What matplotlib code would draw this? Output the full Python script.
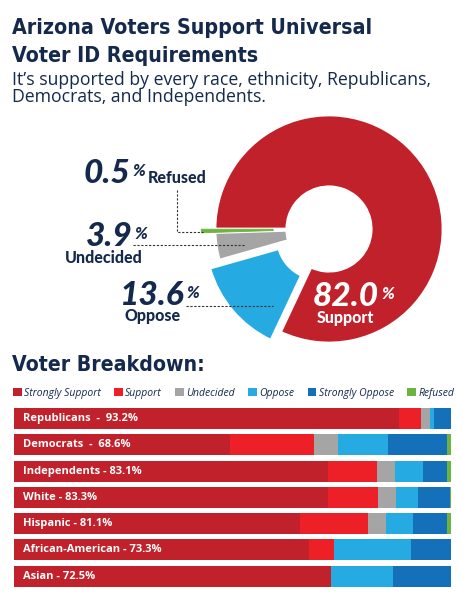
import matplotlib.pyplot as plt
from matplotlib.lines import Line2D

# Datos
total_labels = ["Support", "Oppose", "Undecided", "Refused"]
total_values = [82.0, 13.6, 3.9, 0.5]

grupos = ["Republicans  -  93.2%", "Democrats  -  68.6%", "Independents - 83.1%",
          "White - 83.3%", "Hispanic - 81.1%", "African-American - 73.3%", "Asian - 72.5%"]
strongly_support = [88.0, 49.4, 71.9, 71.9, 65.4, 67.5, 72.5]
support = [5.2, 19.2, 11.2, 11.4, 15.7, 5.8, 0.0]
undecided = [2.0, 5.6, 4.1, 4.1, 4.1, 0.0, 0.0]
oppose = [0.8, 11.4, 6.4, 5.0, 6.2, 17.5, 14.2]
strongly_oppose = [4.0, 13.5, 5.5, 7.3, 7.6, 9.2, 13.3]
refused = [0.0, 0.9, 0.9, 0.3, 1.1, 0.0, 0.0]

navy = "#14294b"
cores = {"Strongly Support": "#c1212a", "Support": "#ed2027", "Undecided": "#a5a5a5",
         "Oppose": "#25aae1", "Strongly Oppose": "#1470b8", "Refused": "#6db33f"}

W, H = 463, 600


def fx(x):
    return x / W


def fy(y):
    return 1 - y / H


fig = plt.figure(figsize=(W / 100, H / 100), dpi=100)
fig.patch.set_facecolor("white")

titulo = dict(family="DejaVu Sans", stretch="condensed", weight="bold", color=navy, va="baseline")
fig.text(fx(12), fy(34), "Arizona Voters Support Universal", size=15.3, **titulo)
fig.text(fx(12), fy(62), "Voter ID Requirements", size=15.3, **titulo)
fig.text(fx(12), fy(85), "It\u2019s supported by every race, ethnicity, Republicans,",
         family="Open Sans", size=12.7, color=navy, va="baseline")
fig.text(fx(12), fy(102), "Democrats, and Independents.",
         family="Open Sans", size=12.7, color=navy, va="baseline")

# Donut
cx, cy, r_px = 329, 229, 114
lado = 2 * 1.4 * r_px
ax_d = fig.add_axes([fx(cx - lado / 2), fy(cy + lado / 2), lado / W, lado / H])
cores_donut = [cores["Strongly Support"], cores["Oppose"], cores["Undecided"], cores["Refused"]]
fatias, _ = ax_d.pie(total_values, colors=cores_donut, startangle=180, counterclock=False,
                     explode=[0, 0.11, 0.0, 0.12], radius=1,
                     wedgeprops=dict(width=0.63, edgecolor="white", linewidth=2))
fatias[3].set_linewidth(0.6)
fatias[3].set_edgecolor(cores["Refused"])
ax_d.set_xlim(-1.4, 1.4)
ax_d.set_ylim(-1.4, 1.4)
ax_d.axis("off")

num_font = dict(family="Lato", weight="black", style="italic")
lab_font = dict(family="Lato", weight="black")


def rotulo(x_num, y_base, valor, nome, x_nome, y_nome, cor=navy):
    t = fig.text(fx(x_num), fy(y_base), valor, size=24, va="baseline", color=cor, **num_font)
    ax_d.annotate("%", xy=(1, 1), xycoords=t, xytext=(1.5, -3), textcoords="offset points",
                  va="top", ha="left", size=12, color=cor, **num_font)
    fig.text(fx(x_nome), fy(y_nome), nome, size=11.5, va="baseline", color=cor, **lab_font)


rotulo(84, 183, "0.5", "Refused", 148, 183)
rotulo(86, 246, "3.9", "Undecided", 65, 263)
rotulo(120, 305, "13.6", "Oppose", 124, 321)
rotulo(313, 306, "82.0", "Support", 317, 323, cor="white")

linha = dict(color="#333333", linewidth=0.8, linestyle=(0, (2, 1.5)))
fig.add_artist(Line2D([fx(177), fx(177), fx(203)], [fy(190), fy(232), fy(232)], **linha))
fig.add_artist(Line2D([fx(133), fx(245)], [fy(245), fy(245)], **linha))
fig.add_artist(Line2D([fx(186), fx(273)], [fy(306), fy(306)], **linha))

fig.text(fx(12), fy(371), "Voter Breakdown:", size=15.2, **titulo)

# Barras
ax = fig.add_axes([fx(14), fy(589.4), (451 - 14) / W, 184.1 / H])
y = list(range(len(grupos)))
series = [("Strongly Support", strongly_support), ("Support", support),
          ("Undecided", undecided), ("Oppose", oppose),
          ("Strongly Oppose", strongly_oppose), ("Refused", refused)]
esquerda = [0.0] * len(grupos)
for nome, valores in series:
    ax.barh(y, valores, left=esquerda, height=0.8, color=cores[nome], label=nome, linewidth=0)
    esquerda = [a + b for a, b in zip(esquerda, valores)]

for i, g in enumerate(grupos):
    ax.text(2.0, i, g, color="white", weight="bold", family="Open Sans", size=8, va="center")

ax.set_xlim(0, 100)
ax.set_ylim(len(grupos) - 0.5, -0.5)
ax.axis("off")

ax.legend(ncol=6, loc="lower left", bbox_to_anchor=(-0.003, 1.035), frameon=False,
          handlelength=0.85, handleheight=0.85, handletextpad=0.2, columnspacing=1.3,
          borderaxespad=0, borderpad=0,
          prop=dict(family="Open Sans", style="italic", size=7.5), labelcolor=navy)

fig.savefig("out.png", dpi=100)
